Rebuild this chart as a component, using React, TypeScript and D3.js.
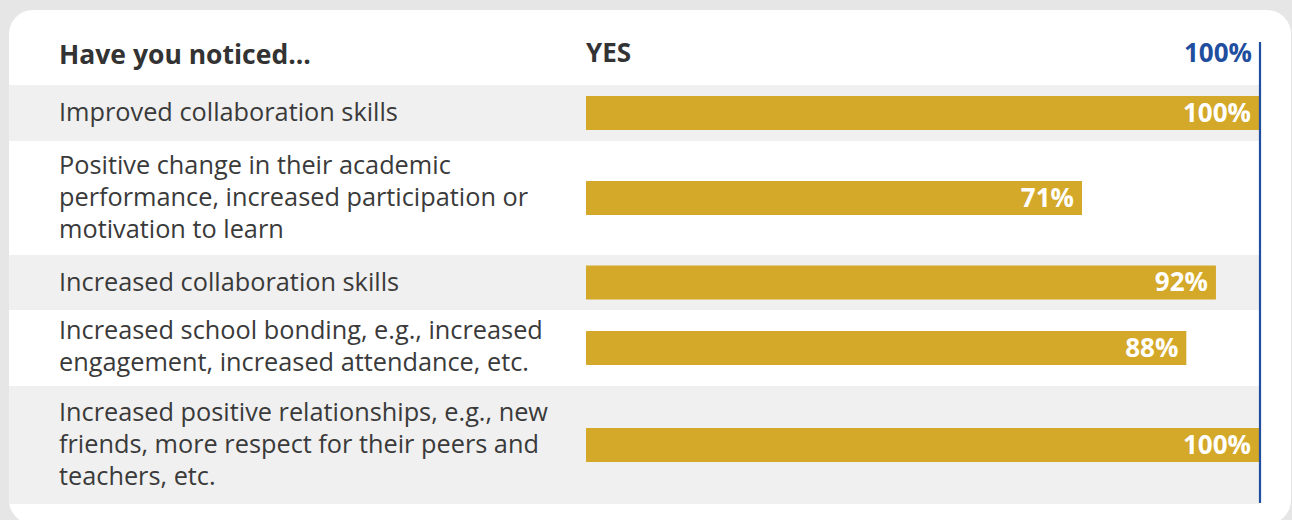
import React from "react";
import * as d3 from "d3";

// ---- data ----
const headerLabel = "Have you noticed...";
const seriesLabel = "YES";
const axisMaxLabel = "100%";
const categories: string[][] = [
  ["Improved collaboration skills"],
  ["Positive change in their academic", "performance, increased participation or", "motivation to learn"],
  ["Increased collaboration skills"],
  ["Increased school bonding, e.g., increased", "engagement, increased attendance, etc."],
  ["Increased positive relationships, e.g., new", "friends, more respect for their peers and", "teachers, etc."],
];
// bar lengths as drawn (percent of full scale)
const yesValues: number[] = [100, 73.7, 93.6, 89.2, 100];
const yesLabels: string[] = ["100%", "71%", "92%", "88%", "100%"];

// ---- layout ----
const W = 1292;
const H = 520;
const FONT = "'Open Sans', 'Noto Sans', sans-serif";
const TEXT = "#3a3a3a";
const GOLD = "#d4a829";
const BLUE = "#1f4e9e";
const BAND = "#f0f0f0";
const ROW_TOP = 85;
const ROW_HEIGHTS = [56, 114, 55, 76, 118];
const LINE_H = 32;
const BAR_H = 34;
const FS = 25.3;
const FS_BOLD = 26;

export default function App() {
  const x = d3.scaleLinear().domain([0, 100]).range([586, 1259]);
  const tops: number[] = [];
  let acc = ROW_TOP;
  ROW_HEIGHTS.forEach((h) => {
    tops.push(acc);
    acc += h;
  });

  return (
    <svg
      width={W}
      height={H}
      style={{ position: "absolute", left: 0, top: 0, display: "block" }}
      fontFamily={FONT}
    >
      <rect x={0} y={0} width={W} height={H} fill="#e6e6e6" />
      <rect x={9} y={10} width={1282} height={514} rx={24} ry={24} fill="#ffffff" />

      {categories.map((lines, i) => {
        const top = tops[i];
        const h = ROW_HEIGHTS[i];
        const cy = top + h / 2;
        const firstBaseline = cy - ((lines.length - 1) / 2) * LINE_H + 8;
        return (
          <g key={i}>
            {i % 2 === 0 && <rect x={9} y={top} width={1250} height={h} fill={BAND} />}
            <text x={59} y={firstBaseline} fontSize={FS} fill={TEXT}>
              {lines.map((l, j) => (
                <tspan key={j} x={59} y={firstBaseline + j * LINE_H - (lines.length === 2 ? 1.5 : 0)}>
                  {l}
                </tspan>
              ))}
            </text>
            <rect x={x(0)} y={cy - BAR_H / 2} width={x(yesValues[i]) - x(0)} height={BAR_H} fill={GOLD} />
            <text
              x={x(yesValues[i]) - 8}
              y={cy + 8.5}
              fontSize={FS_BOLD}
              fontWeight={700}
              fill="#ffffff"
              textAnchor="end"
            >
              {yesLabels[i]}
            </text>
          </g>
        );
      })}

      <text x={59} y={64} fontSize={26.5} fontWeight={700} fill="#333333">
        {headerLabel}
      </text>
      <text x={586} y={62} fontSize={FS_BOLD} fontWeight={700} fill="#333333">
        {seriesLabel}
      </text>
      <text x={1252} y={62} fontSize={FS_BOLD} fontWeight={700} fill={BLUE} textAnchor="end">
        {axisMaxLabel}
      </text>
      <line x1={x(100) + 1} x2={x(100) + 1} y1={42} y2={503} stroke={BLUE} strokeWidth={2.2} />
    </svg>
  );
}
